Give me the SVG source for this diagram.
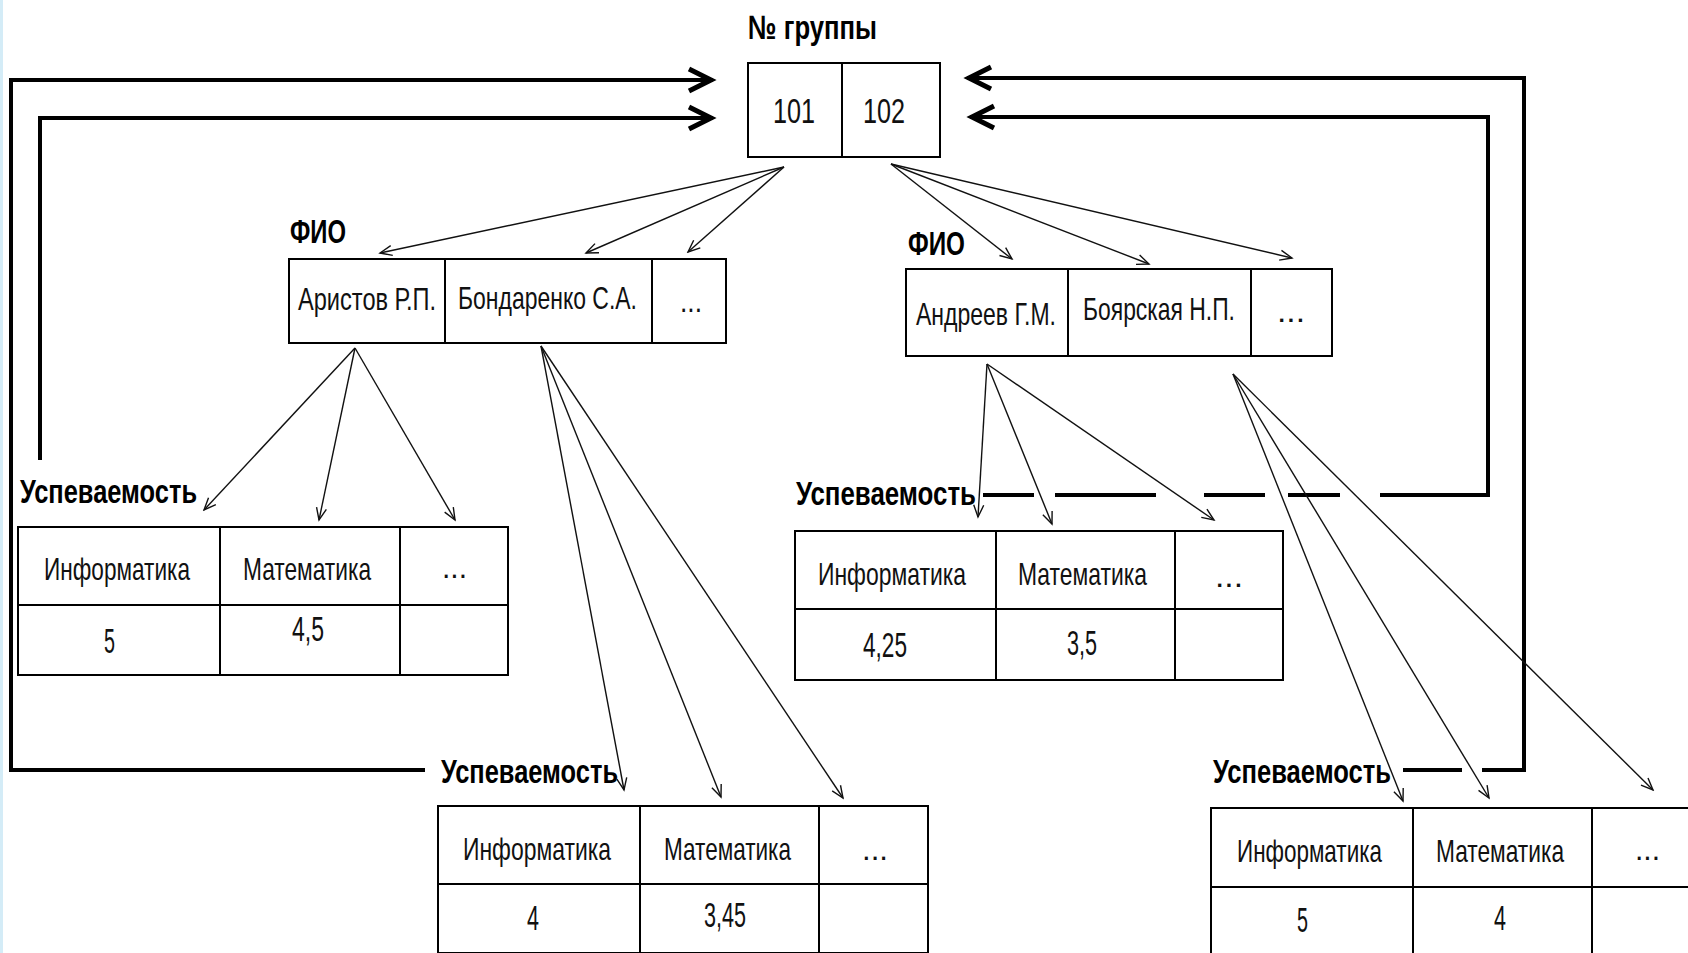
<svg xmlns="http://www.w3.org/2000/svg" width="1688" height="953" viewBox="0 0 1688 953">
  <style>
    .cell { fill: #fff; stroke: #000; stroke-width: 2; }
    .div { stroke: #000; stroke-width: 2; fill: none; }
    .txt { font-family: "Liberation Sans", Arial, sans-serif; font-size: 32px; fill: #111; }
    .val { font-family: "Liberation Sans", Arial, sans-serif; font-size: 36px; fill: #111; }
    .lbl { font-family: "Liberation Sans", Arial, sans-serif; font-size: 34px; font-weight: bold; fill: #000; }
    .bold-line { fill: none; stroke: #000; stroke-width: 4; stroke-linejoin: miter; }
    .thin { fill: none; stroke: #111; stroke-width: 1.4; marker-end: url(#thin-head); }
  </style>
  <defs>
    <marker id="bold-head" viewBox="-30 -16 36 32" refX="0" refY="0" markerWidth="36" markerHeight="32" markerUnits="userSpaceOnUse" orient="auto">
      <path d="M-24,-11 L-2,0 L-24,11" fill="none" stroke="#000" stroke-width="5"/>
    </marker>
    <marker id="thin-head" viewBox="-16 -8 18 16" refX="0" refY="0" markerWidth="18" markerHeight="16" markerUnits="userSpaceOnUse" orient="auto">
      <path d="M-12,-5 L0,0 L-12,5" fill="none" stroke="#111" stroke-width="1.4"/>
    </marker>
  </defs>

  <rect width="1688" height="953" fill="#fff"/>
  <rect x="0" y="0" width="3" height="953" fill="#d4ecf7"/>

  <!-- all texts use a condensed face: scaled 0.7 horizontally, widths fixed by textLength -->

  <!-- group number box -->
  <g id="group-number">
    <text class="lbl" transform="translate(748,39) scale(0.7,1)" font-size="31" textLength="184.3" lengthAdjust="spacingAndGlyphs">№ группы</text>
    <rect class="cell" x="748" y="63" width="192" height="94"/>
    <line class="div" x1="842" y1="63" x2="842" y2="157"/>
    <text class="val" transform="translate(773,123) scale(0.7,1)" font-size="40" textLength="60" lengthAdjust="spacingAndGlyphs">101</text>
    <text class="val" transform="translate(863,123) scale(0.7,1)" font-size="40" textLength="60" lengthAdjust="spacingAndGlyphs">102</text>
  </g>

  <!-- students of group 101 -->
  <g id="fio-101">
    <text class="lbl" transform="translate(290,243) scale(0.7,1)" textLength="80" lengthAdjust="spacingAndGlyphs">ФИО</text>
    <rect class="cell" x="289" y="259" width="437" height="84"/>
    <line class="div" x1="445" y1="259" x2="445" y2="343"/>
    <line class="div" x1="652" y1="259" x2="652" y2="343"/>
    <text class="txt" transform="translate(298,310) scale(0.7,1)" textLength="197.1" lengthAdjust="spacingAndGlyphs">Аристов Р.П.</text>
    <text class="txt" transform="translate(458,309) scale(0.7,1)" textLength="255.7" lengthAdjust="spacingAndGlyphs">Бондаренко С.А.</text>
    <text class="txt" transform="translate(680,312) scale(0.7,1)" textLength="31.4" lengthAdjust="spacingAndGlyphs">...</text>
  </g>

  <!-- students of group 102 -->
  <g id="fio-102">
    <text class="lbl" transform="translate(908,255) scale(0.7,1)" textLength="81.4" lengthAdjust="spacingAndGlyphs">ФИО</text>
    <rect class="cell" x="906" y="269" width="426" height="87"/>
    <line class="div" x1="1068" y1="269" x2="1068" y2="356"/>
    <line class="div" x1="1251" y1="269" x2="1251" y2="356"/>
    <text class="txt" transform="translate(916,325) scale(0.7,1)" textLength="200" lengthAdjust="spacingAndGlyphs">Андреев Г.М.</text>
    <text class="txt" transform="translate(1083,320) scale(0.7,1)" textLength="217.1" lengthAdjust="spacingAndGlyphs">Боярская Н.П.</text>
    <text class="txt" transform="translate(1277,322) scale(0.7,1)" textLength="40" lengthAdjust="spacingAndGlyphs">...</text>
  </g>

  <!-- grades: Аристов -->
  <g id="grades-aristov">
    <text class="lbl" transform="translate(20,503) scale(0.7,1)" textLength="252.9" lengthAdjust="spacingAndGlyphs">Успеваемость</text>
    <rect class="cell" x="18" y="527" width="490" height="148"/>
    <line class="div" x1="18" y1="605" x2="508" y2="605"/>
    <line class="div" x1="220" y1="527" x2="220" y2="675"/>
    <line class="div" x1="400" y1="527" x2="400" y2="675"/>
    <text class="txt" transform="translate(44,580) scale(0.7,1)" textLength="208.6" lengthAdjust="spacingAndGlyphs">Информатика</text>
    <text class="txt" transform="translate(243,580) scale(0.7,1)" textLength="182.9" lengthAdjust="spacingAndGlyphs">Математика</text>
    <text class="txt" transform="translate(442,578) scale(0.7,1)" textLength="35.7" lengthAdjust="spacingAndGlyphs">...</text>
    <text class="val" transform="translate(104,653) scale(0.7,1)" textLength="15.7" lengthAdjust="spacingAndGlyphs">5</text>
    <text class="val" transform="translate(292,641) scale(0.7,1)" textLength="45.7" lengthAdjust="spacingAndGlyphs">4,5</text>
  </g>

  <!-- grades: Бондаренко -->
  <g id="grades-bondarenko">
    <text class="lbl" transform="translate(441,783) scale(0.7,1)" textLength="252.9" lengthAdjust="spacingAndGlyphs">Успеваемость</text>
    <rect class="cell" x="438" y="806" width="490" height="147"/>
    <line class="div" x1="438" y1="884" x2="928" y2="884"/>
    <line class="div" x1="640" y1="806" x2="640" y2="953"/>
    <line class="div" x1="819" y1="806" x2="819" y2="953"/>
    <text class="txt" transform="translate(463,860) scale(0.7,1)" textLength="211.4" lengthAdjust="spacingAndGlyphs">Информатика</text>
    <text class="txt" transform="translate(664,860) scale(0.7,1)" textLength="181.4" lengthAdjust="spacingAndGlyphs">Математика</text>
    <text class="txt" transform="translate(862,860) scale(0.7,1)" textLength="37.1" lengthAdjust="spacingAndGlyphs">...</text>
    <text class="val" transform="translate(527,930) scale(0.7,1)" textLength="17.1" lengthAdjust="spacingAndGlyphs">4</text>
    <text class="val" transform="translate(704,927) scale(0.7,1)" textLength="60" lengthAdjust="spacingAndGlyphs">3,45</text>
  </g>

  <!-- grades: Андреев -->
  <g id="grades-andreev">
    <text class="lbl" transform="translate(796,505) scale(0.7,1)" textLength="257.1" lengthAdjust="spacingAndGlyphs">Успеваемость</text>
    <rect class="cell" x="795" y="531" width="488" height="149"/>
    <line class="div" x1="795" y1="609" x2="1283" y2="609"/>
    <line class="div" x1="996" y1="531" x2="996" y2="680"/>
    <line class="div" x1="1175" y1="531" x2="1175" y2="680"/>
    <text class="txt" transform="translate(818,585) scale(0.7,1)" textLength="211.4" lengthAdjust="spacingAndGlyphs">Информатика</text>
    <text class="txt" transform="translate(1018,585) scale(0.7,1)" textLength="184.3" lengthAdjust="spacingAndGlyphs">Математика</text>
    <text class="txt" transform="translate(1215,587) scale(0.7,1)" textLength="40" lengthAdjust="spacingAndGlyphs">...</text>
    <text class="val" transform="translate(863,657) scale(0.7,1)" textLength="62.9" lengthAdjust="spacingAndGlyphs">4,25</text>
    <text class="val" transform="translate(1067,655) scale(0.7,1)" textLength="42.9" lengthAdjust="spacingAndGlyphs">3,5</text>
  </g>

  <!-- grades: Боярская -->
  <g id="grades-boyarskaya">
    <text class="lbl" transform="translate(1213,783) scale(0.7,1)" textLength="254.3" lengthAdjust="spacingAndGlyphs">Успеваемость</text>
    <rect class="cell" x="1211" y="808" width="500" height="148"/>
    <line class="div" x1="1211" y1="887" x2="1711" y2="887"/>
    <line class="div" x1="1413" y1="808" x2="1413" y2="956"/>
    <line class="div" x1="1592" y1="808" x2="1592" y2="956"/>
    <text class="txt" transform="translate(1237,862) scale(0.7,1)" textLength="207.1" lengthAdjust="spacingAndGlyphs">Информатика</text>
    <text class="txt" transform="translate(1436,862) scale(0.7,1)" textLength="182.9" lengthAdjust="spacingAndGlyphs">Математика</text>
    <text class="txt" transform="translate(1635,860) scale(0.7,1)" textLength="35.7" lengthAdjust="spacingAndGlyphs">...</text>
    <text class="val" transform="translate(1297,932) scale(0.7,1)" textLength="15.7" lengthAdjust="spacingAndGlyphs">5</text>
    <text class="val" transform="translate(1494,930) scale(0.7,1)" textLength="17.1" lengthAdjust="spacingAndGlyphs">4</text>
  </g>

  <g id="connectors">
    <!-- back references to the group number -->
    <path class="bold-line" d="M425,770 H11 V80 H713" marker-end="url(#bold-head)"/>
    <path class="bold-line" d="M40,460 V118 H713" marker-end="url(#bold-head)"/>
    <path class="bold-line" d="M1462,770 H1403"/>
    <path class="bold-line" d="M1482,770 H1524 V78 H967" marker-end="url(#bold-head)"/>
    <path class="bold-line" d="M1380,495 H1488 V117 H970" marker-end="url(#bold-head)"/>
    <path class="bold-line" d="M983,495 H1034 M1055,495 H1156 M1204,495 H1265 M1288,495 H1340"/>

    <!-- group 101 to students -->
    <line class="thin" x1="784" y1="167" x2="380" y2="253"/>
    <line class="thin" x1="784" y1="167" x2="586" y2="253"/>
    <line class="thin" x1="784" y1="167" x2="688" y2="252"/>
    <!-- group 102 to students -->
    <line class="thin" x1="891" y1="164" x2="1012" y2="259"/>
    <line class="thin" x1="891" y1="164" x2="1149" y2="264"/>
    <line class="thin" x1="891" y1="164" x2="1292" y2="258"/>
    <!-- Аристов to subjects -->
    <line class="thin" x1="355" y1="348" x2="204" y2="510"/>
    <line class="thin" x1="355" y1="348" x2="319" y2="520"/>
    <line class="thin" x1="355" y1="348" x2="455" y2="520"/>
    <!-- Бондаренко to subjects -->
    <line class="thin" x1="541" y1="346" x2="624" y2="790"/>
    <line class="thin" x1="541" y1="346" x2="721" y2="797"/>
    <line class="thin" x1="541" y1="346" x2="843" y2="798"/>
    <!-- Андреев to subjects -->
    <line class="thin" x1="987" y1="364" x2="978" y2="517"/>
    <line class="thin" x1="987" y1="364" x2="1052" y2="524"/>
    <line class="thin" x1="987" y1="364" x2="1214" y2="520"/>
    <!-- Боярская to subjects -->
    <line class="thin" x1="1233" y1="374" x2="1403" y2="801"/>
    <line class="thin" x1="1233" y1="374" x2="1489" y2="798"/>
    <line class="thin" x1="1233" y1="374" x2="1653" y2="790"/>
  </g>
</svg>
